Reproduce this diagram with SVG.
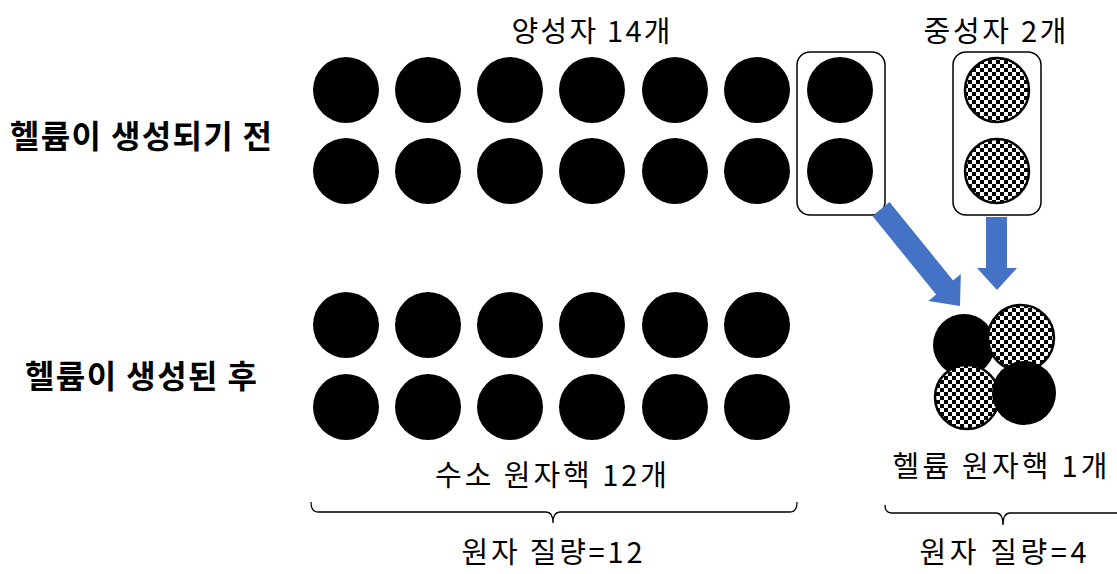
<svg xmlns="http://www.w3.org/2000/svg" width="1117" height="574" viewBox="0 0 1117 574">
<defs>
<pattern id="chk" width="8" height="8" patternUnits="userSpaceOnUse">
<rect width="8" height="8" fill="#fff"/>
<rect width="4" height="4" fill="#000"/>
<rect x="4" y="4" width="4" height="4" fill="#000"/>
</pattern>
<style>
.p{fill:#000;}
.n{fill:url(#chk);stroke:#000;stroke-width:2.5;}
.box{fill:none;stroke:#000;stroke-width:1.5;}
.t{font-family:"Noto Sans CJK KR","Noto Sans",sans-serif;font-size:29px;fill:#000;text-anchor:middle;}
.b{font-family:"Noto Sans CJK KR","Noto Sans",sans-serif;font-size:32px;font-weight:bold;fill:#000;text-anchor:middle;}
.arr{fill:#4472C4;}
.br{fill:none;stroke:#000;stroke-width:1.3;}
</style>
</defs>
<rect width="1117" height="574" fill="#fff"/>

<g id="label-before"><text class="b" x="141" y="148" textLength="262" lengthAdjust="spacing">헬륨이 생성되기 전</text></g>
<g id="label-after"><text class="b" x="141" y="388" textLength="232" lengthAdjust="spacing">헬륨이 생성된 후</text></g>
<g id="label-protons"><text class="t" x="591" y="42" textLength="159" lengthAdjust="spacing">양성자 14개</text></g>
<g id="label-neutrons"><text class="t" x="995" y="42" textLength="143" lengthAdjust="spacing">중성자 2개</text></g>

<g id="protons-before" class="p">
<circle cx="346" cy="90" r="33"/><circle cx="428" cy="90" r="33"/><circle cx="510" cy="90" r="33"/><circle cx="592" cy="90" r="33"/><circle cx="675" cy="90" r="33"/><circle cx="757" cy="90" r="33"/><circle cx="840" cy="90" r="33"/>
<circle cx="346" cy="171" r="33"/><circle cx="428" cy="171" r="33"/><circle cx="510" cy="171" r="33"/><circle cx="592" cy="171" r="33"/><circle cx="675" cy="171" r="33"/><circle cx="757" cy="171" r="33"/><circle cx="840" cy="171" r="33"/>
</g>
<g id="proton-box"><rect class="box" x="797" y="52" width="88" height="163" rx="13"/></g>

<g id="neutrons-before">
<rect class="box" x="953" y="52" width="88" height="163" rx="13"/>
<circle class="n" cx="997" cy="90" r="32"/>
<circle class="n" cx="997" cy="171" r="32"/>
</g>

<g id="connectors">
<path class="arr" d="M872.5,216 L889.5,202 L953.1,280.5 L960.8,274.1 L960,306 L928.4,300.9 L936.1,294.5 Z"/>
<path class="arr" d="M986,217 L1007,217 L1007,268 L1017,268 L997,290 L977,268 L986,268 Z"/>
</g>

<g id="hydrogen-after" class="p">
<circle cx="346" cy="325" r="33"/><circle cx="428" cy="325" r="33"/><circle cx="510" cy="325" r="33"/><circle cx="592" cy="325" r="33"/><circle cx="675" cy="325" r="33"/><circle cx="757" cy="325" r="33"/>
<circle cx="346" cy="407" r="33"/><circle cx="428" cy="407" r="33"/><circle cx="510" cy="407" r="33"/><circle cx="592" cy="407" r="33"/><circle cx="675" cy="407" r="33"/><circle cx="757" cy="407" r="33"/>
</g>

<g id="helium">
<circle cx="964" cy="345" r="31" fill="#000"/>
<circle class="n" cx="1021" cy="338" r="33"/>
<circle class="n" cx="967" cy="397" r="32"/>
<circle cx="1024" cy="393" r="32" fill="#000"/>
</g>

<g id="label-hydrogen"><text class="t" x="551" y="486" textLength="232" lengthAdjust="spacing">수소 원자핵 12개</text></g>
<g id="label-helium"><text class="t" x="1000" y="477" textLength="215" lengthAdjust="spacing">헬륨 원자핵 1개</text></g>

<g id="brace-left">
<path class="br" d="M311,502 Q311,512 318,512 L546,512 Q553,512 553,523 Q553,512 560,512 L790,512 Q797,512 797,502"/>
</g>
<g id="brace-right">
<path class="br" d="M885,505 Q885,513 892,513 L996,513 Q1003,513 1003,525 Q1003,513 1010,513 L1117,513"/>
</g>

<g id="label-mass12"><text class="t" x="552" y="563" textLength="181" lengthAdjust="spacing">원자 질량=12</text></g>
<g id="label-mass4"><text class="t" x="1003" y="563" textLength="167" lengthAdjust="spacing">원자 질량=4</text></g>
</svg>
